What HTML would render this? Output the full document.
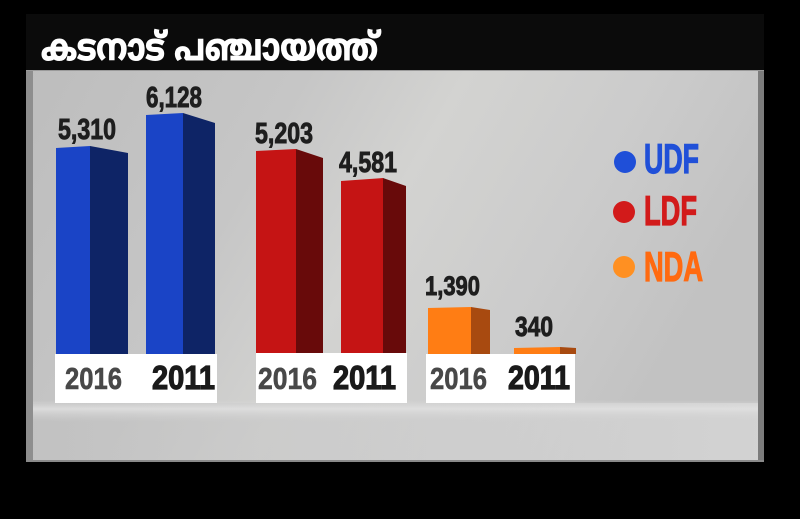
<!DOCTYPE html>
<html><head><meta charset="utf-8"><style>
html,body{margin:0;padding:0;background:#000;}
svg{display:block;}
</style></head><body>
<svg width="800" height="519" viewBox="0 0 800 519" xmlns="http://www.w3.org/2000/svg">
<defs>
<linearGradient id="bg" x1="0" y1="0" x2="1" y2="0.3">
<stop offset="0" stop-color="#bdbdbd"/>
<stop offset="0.35" stop-color="#c6c6c6"/>
<stop offset="0.55" stop-color="#d3d3d1"/>
<stop offset="0.8" stop-color="#cbcbcb"/>
<stop offset="1" stop-color="#c2c2c2"/>
</linearGradient>
<linearGradient id="bot" x1="0" y1="0" x2="1" y2="0">
<stop offset="0" stop-color="#c0c0c0"/>
<stop offset="0.5" stop-color="#cdcdcd"/>
<stop offset="1" stop-color="#dadada"/>
</linearGradient>
<linearGradient id="band" x1="0" y1="0" x2="0" y2="1">
<stop offset="0" stop-color="#dcdcdc" stop-opacity="0"/>
<stop offset="0.4" stop-color="#e2e2e2" stop-opacity="0.8"/>
<stop offset="1" stop-color="#d0d0d0" stop-opacity="0"/>
</linearGradient>
</defs>
<rect width="800" height="519" fill="#000"/>
<rect x="26" y="14" width="738" height="56" fill="#0b0b0b"/>
<rect x="26" y="70" width="738" height="392" fill="url(#bg)"/>
<rect x="26" y="403" width="738" height="59" fill="url(#bot)" opacity="0.7"/>
<rect x="26" y="400" width="738" height="22" fill="url(#band)"/>
<rect x="26" y="70" width="7" height="392" fill="#8e8e8e"/>
<rect x="758" y="70" width="6" height="392" fill="#7c7c7c"/>
<rect x="26" y="70" width="738" height="1" fill="#9a9a9a"/>
<rect x="26" y="460" width="738" height="2" fill="#8a8a8a"/>

<text x="41" y="60" fill="#fff" stroke="#fff" stroke-width="1" font-family="'Noto Sans Malayalam','Manjari','Meera','Rachana','Lohit Malayalam','Liberation Sans',sans-serif" font-weight="bold" font-size="37" textLength="337" lengthAdjust="spacingAndGlyphs">കടനാട് പഞ്ചായത്ത്</text>

<rect x="55" y="354" width="162" height="49" fill="#fff"/>
<rect x="256" y="353" width="151" height="50" fill="#fff"/>
<rect x="426" y="354" width="149" height="49" fill="#fff"/>

<polygon points="56,148 90,146 90,354 56,354" fill="#1a44c6"/>
<polygon points="90,146 128,153 128,354 90,354" fill="#0e2466"/>
<polygon points="146,115 183,113 183,354 146,354" fill="#1a44c6"/>
<polygon points="183,113 215,123 215,354 183,354" fill="#0e2466"/>
<polygon points="256,151 296,149 296,353 256,353" fill="#c51414"/>
<polygon points="296,149 323,158 323,353 296,353" fill="#680a0a"/>
<polygon points="341,181 383,178 383,353 341,353" fill="#c51414"/>
<polygon points="383,178 406,186 406,353 383,353" fill="#680a0a"/>
<polygon points="428,308 471,307 471,354 428,354" fill="#ff7d14"/>
<polygon points="471,307 490,310 490,354 471,354" fill="#a84a10"/>
<polygon points="514,348 560,347 560,354 514,354" fill="#ff7d14"/>
<polygon points="560,347 576,348 576,354 560,354" fill="#a84a10"/>

<g font-family="'Liberation Sans Narrow','Liberation Sans',sans-serif" font-weight="bold" fill="#1e1e1e" stroke="#1e1e1e" stroke-width="0.9" font-size="29">
<text x="58" y="139" textLength="58" lengthAdjust="spacingAndGlyphs">5,310</text>
<text x="146" y="107" textLength="56" lengthAdjust="spacingAndGlyphs">6,128</text>
<text x="255" y="143" textLength="58" lengthAdjust="spacingAndGlyphs">5,203</text>
<text x="339" y="172" textLength="58" lengthAdjust="spacingAndGlyphs">4,581</text>
<text x="425" y="295" font-size="27" textLength="55" lengthAdjust="spacingAndGlyphs">1,390</text>
<text x="515" y="336" font-size="28" textLength="38" lengthAdjust="spacingAndGlyphs">340</text>
</g>

<g font-family="'Liberation Sans Narrow','Liberation Sans',sans-serif" font-weight="bold" font-size="31">
<text x="65" y="389" fill="#484848" stroke="#484848" stroke-width="0.6" textLength="57" lengthAdjust="spacingAndGlyphs">2016</text>
<text x="152" y="389" fill="#1a1a1a" stroke="#1a1a1a" stroke-width="1.2" font-size="33" textLength="63" lengthAdjust="spacingAndGlyphs">2011</text>
<text x="258" y="389" fill="#484848" stroke="#484848" stroke-width="0.6" textLength="59" lengthAdjust="spacingAndGlyphs">2016</text>
<text x="333" y="389" fill="#1a1a1a" stroke="#1a1a1a" stroke-width="1.2" font-size="33" textLength="63" lengthAdjust="spacingAndGlyphs">2011</text>
<text x="430" y="389" fill="#484848" stroke="#484848" stroke-width="0.6" textLength="57" lengthAdjust="spacingAndGlyphs">2016</text>
<text x="508" y="389" fill="#1a1a1a" stroke="#1a1a1a" stroke-width="1.2" font-size="33" textLength="62" lengthAdjust="spacingAndGlyphs">2011</text>
</g>

<circle cx="625" cy="162" r="11" fill="#1f4fd8"/>
<circle cx="624" cy="212" r="11" fill="#d21a1a"/>
<circle cx="624" cy="267" r="11" fill="#ff9022"/>
<g font-family="'Liberation Sans Narrow','Liberation Sans',sans-serif" font-weight="bold" font-size="42" stroke-width="1.2">
<text x="644" y="173" fill="#2050d8" stroke="#2050d8" textLength="55" lengthAdjust="spacingAndGlyphs">UDF</text>
<text x="644" y="225" fill="#d21a1a" stroke="#d21a1a" textLength="53" lengthAdjust="spacingAndGlyphs">LDF</text>
<text x="644" y="281" fill="#ff6a10" stroke="#ff6a10" textLength="59" lengthAdjust="spacingAndGlyphs">NDA</text>
</g>
</svg>
</body></html>
